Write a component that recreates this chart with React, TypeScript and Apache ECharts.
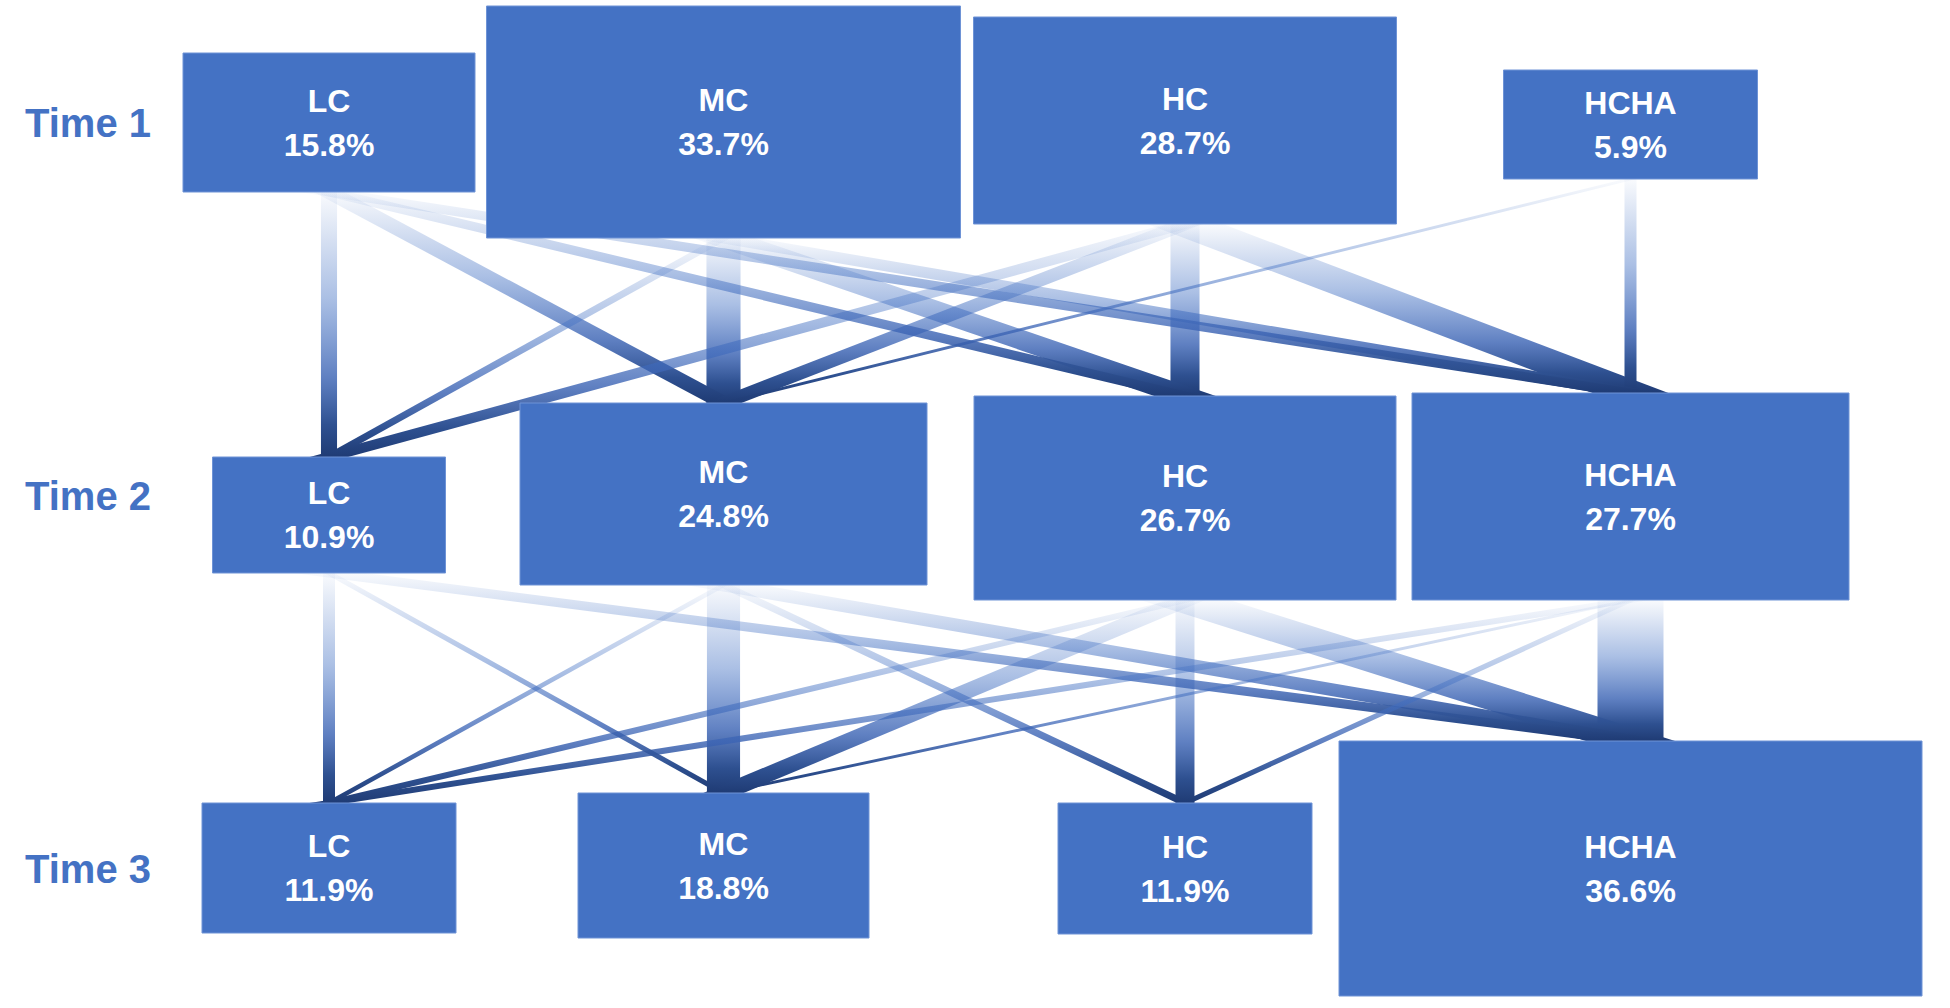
import React, { useEffect, useRef } from 'react';
import * as echarts from 'echarts';

// ---- data ----
const TIMES = ['Time 1', 'Time 2', 'Time 3'];
const CLASSES = ['LC', 'MC', 'HC', 'HCHA'];
const SHARE_T1 = [15.8, 33.7, 28.7, 5.9];
const SHARE_T2 = [10.9, 24.8, 26.7, 27.7];
const SHARE_T3 = [11.9, 18.8, 11.9, 36.6];
// estimated transition flows (rows: from class, cols: to class)
const FLOW_T1_T2 = [
  [6.7, 6.0, 3.8, 3.8],
  [2.9, 14.2, 8.3, 4.6],
  [4.2, 5.4, 12.1, 11.2],
  [0, 1.2, 0, 5.0],
];
const FLOW_T2_T3 = [
  [5.0, 2.1, 0, 3.8],
  [1.9, 13.8, 2.9, 5.4],
  [2.5, 6.5, 7.9, 11.2],
  [2.5, 1.2, 2.1, 27.5],
];

// ---- layout (not data) ----
const COL_X = [329, 723.5, 1185, 1630.5];
const BOX_W = [
  [292, 474, 423, 254],
  [233, 407, 422, 437],
  [254, 291, 254, 583],
];
const BOX_H = [
  [139, 232, 207, 109],
  [116, 182, 204, 207],
  [130, 145, 131, 255],
];
const BOX_DY = [
  [-0.5, -1, -2.5, 1.5],
  [19, -2, 2, 0.5],
  [-1, -3.5, -0.5, -0.5],
];
const PX_PER_FLOW = 2.4;
const FONT = '"Liberation Sans", Arial, Helvetica, sans-serif';
const BOX_COLOR = '#4472C4';

const STOPS = [
  { offset: 0, color: 'rgba(68,114,196,0.03)' },
  { offset: 0.4, color: 'rgba(68,114,196,0.45)' },
  { offset: 0.7, color: 'rgba(60,100,180,0.82)' },
  { offset: 0.88, color: '#2e5090' },
  { offset: 1, color: '#1f3b74' },
];

export default function App() {
  const ref = useRef<HTMLDivElement>(null);
  useEffect(() => {
    if (!ref.current) return;
    const chart = echarts.init(ref.current, undefined, { renderer: 'svg' });

    const shares = [SHARE_T1, SHARE_T2, SHARE_T3];
    const nodeData: number[][] = [];
    shares.forEach((arr, r) => arr.forEach((p, c) => nodeData.push([c, r, p])));

    const flows = [FLOW_T1_T2, FLOW_T2_T3];
    const linkData: number[][] = [];
    flows.forEach((m, r) =>
      m.forEach((row, f) =>
        row.forEach((v, g) => {
          if (v > 0) linkData.push([f, r, g, r + 1, v]);
        })
      )
    );
    // draw thicker links first so thin ones stay visible
    linkData.sort((a, b) => b[4] - a[4]);

    const linkRender = (params: any, api: any) => {
      const f = api.value(0);
      const r = api.value(1);
      const g = api.value(2);
      const r2 = api.value(3);
      const v = api.value(4);
      const s = api.coord([COL_X[f], r]);
      const t = api.coord([COL_X[g], r2]);
      const sx = s[0];
      const sy = s[1] + BOX_DY[r][f] + BOX_H[r][f] / 2;
      const tx = t[0];
      const ty = t[1] + BOX_DY[r2][g] - BOX_H[r2][g] / 2;
      const w = v * PX_PER_FLOW;
      const dx = tx - sx;
      const dy = ty - sy;
      const hw = ((w / 2) * Math.sqrt(dx * dx + dy * dy)) / dy;
      return {
        type: 'polygon',
        shape: {
          points: [
            [sx - hw, sy],
            [sx + hw, sy],
            [tx + hw, ty],
            [tx - hw, ty],
          ],
        },
        style: {
          fill: new echarts.graphic.LinearGradient(0, sy, 0, ty, STOPS, true),
        },
      };
    };

    const nodeRender = (params: any, api: any) => {
      const c = api.value(0);
      const r = api.value(1);
      const p = api.value(2);
      const pt = api.coord([COL_X[c], r]);
      const cx = pt[0];
      const cy = pt[1] + BOX_DY[r][c];
      const w = BOX_W[r][c];
      const h = BOX_H[r][c];
      return {
        type: 'group',
        children: [
          {
            type: 'rect',
            shape: { x: cx - w / 2, y: cy - h / 2, width: w, height: h },
            style: { fill: BOX_COLOR, stroke: '#6e93d6', lineWidth: 1 },
          },
          {
            type: 'text',
            style: {
              x: cx,
              y: cy,
              text: CLASSES[c] + '\n' + Number(p).toFixed(1) + '%',
              fill: '#ffffff',
              fontSize: 32,
              fontWeight: 'bold',
              fontFamily: FONT,
              align: 'center',
              verticalAlign: 'middle',
              lineHeight: 44,
            },
          },
        ],
      };
    };

    chart.setOption({
      animation: false,
      backgroundColor: '#ffffff',
      grid: { left: 0, right: 0, top: 123, height: 746, containLabel: false },
      xAxis: { type: 'value', min: 0, max: 1950, show: false },
      yAxis: {
        type: 'category',
        data: TIMES,
        inverse: true,
        boundaryGap: false,
        axisLine: { show: false },
        axisTick: { show: false },
        splitLine: { show: false },
        axisLabel: {
          inside: true,
          margin: 25,
          fontSize: 40,
          fontWeight: 'bold',
          color: BOX_COLOR,
          fontFamily: FONT,
          padding: [8, 0, 0, 0],
        },
      },
      series: [
        {
          type: 'custom',
          name: 'transitions',
          coordinateSystem: 'cartesian2d',
          renderItem: linkRender,
          encode: { x: 0, y: 1 },
          data: linkData,
          clip: false,
          silent: true,
          z: 1,
        },
        {
          type: 'custom',
          name: 'classes',
          coordinateSystem: 'cartesian2d',
          renderItem: nodeRender,
          encode: { x: 0, y: 1 },
          data: nodeData,
          clip: false,
          silent: true,
          z: 2,
        },
      ],
    });
    return () => chart.dispose();
  }, []);
  return (
    <div
      ref={ref}
      style={{ position: 'fixed', left: 0, top: 0, width: 1950, height: 1008, background: '#fff' }}
    />
  );
}
